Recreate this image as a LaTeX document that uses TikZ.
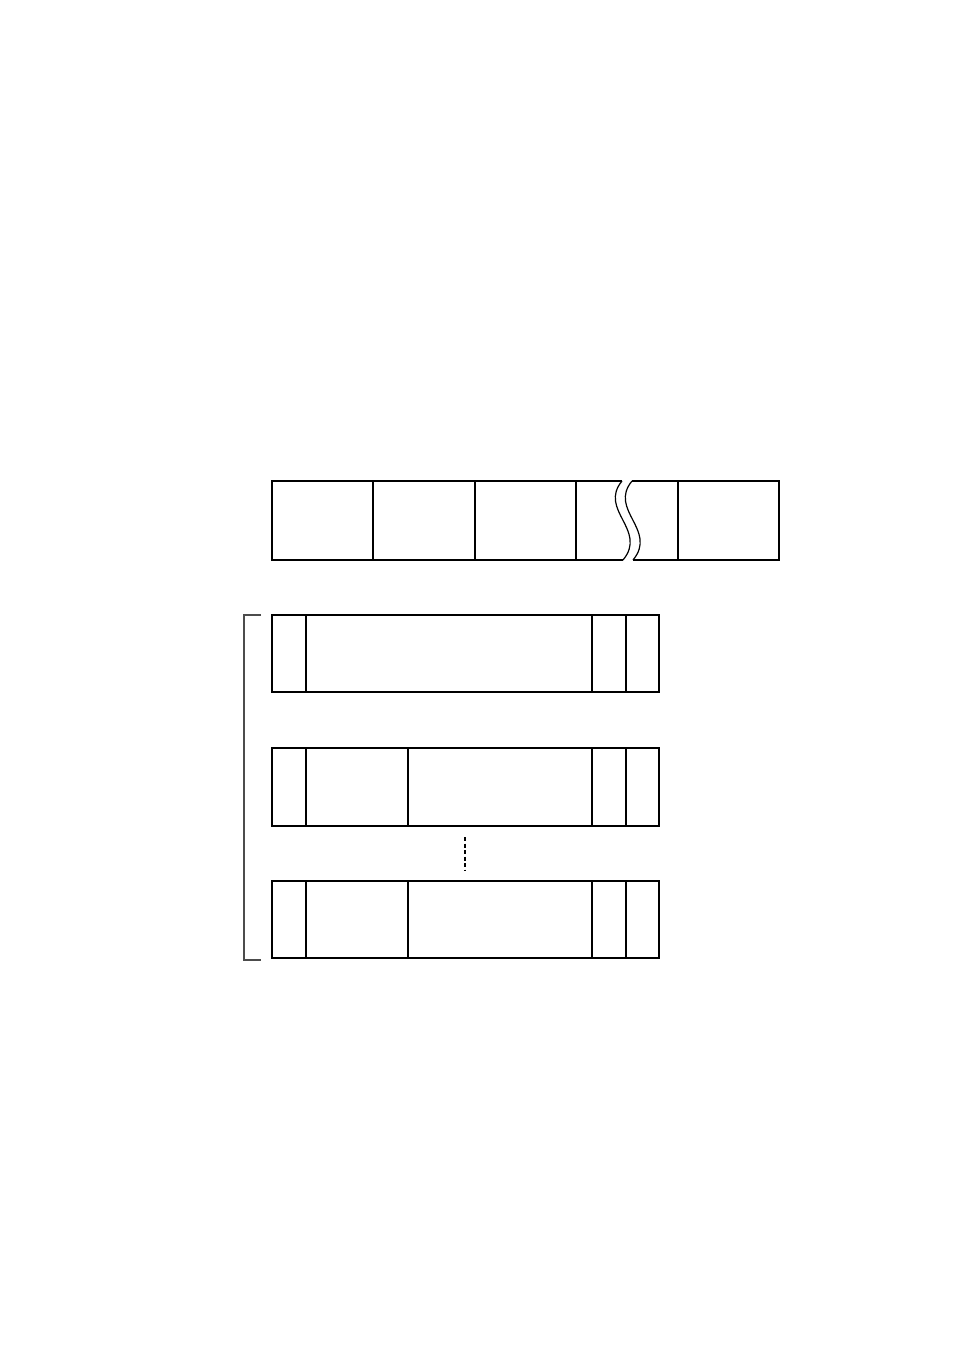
\documentclass[tikz,border=0pt]{standalone}
\begin{document}
\begin{tikzpicture}[x=1pt,y=-1pt,
  ln/.style={line width=1.2pt,black},
  brk/.style={line width=1.2pt,black!70}]
\fill[white] (0,0) rectangle (954,1348);
\useasboundingbox (0,0) rectangle (954,1348);
% top bar
\draw[ln] (622,481) -- (272,481) -- (272,560) -- (623,560);
\draw[ln] (632,481) -- (779,481) -- (779,560) -- (633,560);
\draw[ln] (622,481) .. controls (598,510) and (648,530) .. (623,560);
\draw[ln] (632,481) .. controls (608,510) and (658,530) .. (633,560);
\foreach \x in {373,475,576,678} \draw[ln] (\x,481) -- (\x,560);
% frame rows
\draw[ln] (272,615) rectangle (659,692);
\foreach \x in {306,592,626} \draw[ln] (\x,615) -- (\x,692);
\draw[ln] (272,748) rectangle (659,826);
\foreach \x in {306,408,592,626} \draw[ln] (\x,748) -- (\x,826);
\draw[ln] (272,881) rectangle (659,958);
\foreach \x in {306,408,592,626} \draw[ln] (\x,881) -- (\x,958);
% dashed continuation
\draw[line width=1.2pt,dash pattern=on 4pt off 2.5pt] (465,837) -- (465,870);
% bracket
\draw[brk] (261,615) -- (244,615) -- (244,960) -- (261,960);
\end{tikzpicture}
\end{document}
